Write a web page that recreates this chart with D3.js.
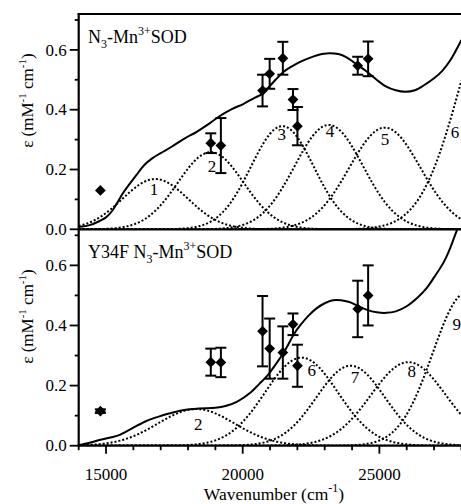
<!DOCTYPE html>
<html>
<head>
<meta charset="utf-8">
<script src="https://cdn.jsdelivr.net/npm/d3@7"></script>
<style>
  html, body { margin: 0; padding: 0; background: #fff; }
  svg { display: block; font-family: "Liberation Serif", "Times New Roman", serif; }
</style>
</head>
<body>
<svg id="chart" width="461" height="504"></svg>
<script>
// Wavenumber range (cm^-1) and absorptivity range (mM^-1 cm^-1)
const wnDomain = [14000, 28000];
const epsDomain = [0, 0.72];

// Measured absorption envelope, N3-Mn3+SOD: [wavenumber, epsilon]
const wildTypeSpectrum = [
  [14000, 0.008], [14400, 0.014], [14750, 0.027], [15000, 0.040], [15230, 0.062],
  [15450, 0.095], [15600, 0.118], [15850, 0.150], [16100, 0.180], [16400, 0.215],
  [16700, 0.238], [17000, 0.255], [17400, 0.276], [17900, 0.305], [18300, 0.325],
  [18800, 0.355], [19150, 0.378], [19600, 0.402], [20000, 0.418], [20400, 0.438],
  [20700, 0.452], [20900, 0.470], [21200, 0.500], [21500, 0.527], [21800, 0.545],
  [22100, 0.560], [22500, 0.575], [22900, 0.586], [23200, 0.589], [23500, 0.586],
  [23800, 0.575], [24100, 0.556], [24500, 0.530], [24900, 0.500], [25200, 0.480],
  [25600, 0.465], [25950, 0.460], [26300, 0.465], [26600, 0.480], [27000, 0.505],
  [27300, 0.530], [27600, 0.566], [28000, 0.633]
];

// Measured absorption envelope, Y34F N3-Mn3+SOD
const y34fSpectrum = [
  [14000, 0.002], [14400, 0.010], [14800, 0.020], [15200, 0.028], [15500, 0.036],
  [15800, 0.050], [16100, 0.065], [16500, 0.083], [16900, 0.096], [17300, 0.107],
  [17800, 0.118], [18400, 0.124], [19000, 0.126], [19400, 0.133], [19800, 0.147],
  [20300, 0.178], [20600, 0.205], [20900, 0.233], [21200, 0.270], [21500, 0.310],
  [21900, 0.375], [22100, 0.400], [22400, 0.432], [22700, 0.457], [23000, 0.474],
  [23300, 0.484], [23600, 0.484], [23900, 0.478], [24200, 0.466], [24550, 0.452],
  [24900, 0.444], [25250, 0.442], [25600, 0.447], [26000, 0.464], [26400, 0.493],
  [26750, 0.527], [27000, 0.560], [27350, 0.610], [27600, 0.660], [27850, 0.720],
  [28000, 0.750]
];

// Gaussian components: label, centre (cm^-1), peak epsilon, standard deviation (cm^-1)
const wildTypeBands = [
  { label: "1", center: 16800, height: 0.168, sigma: 1200 },
  { label: "2", center: 18830, height: 0.258, sigma: 1200 },
  { label: "3", center: 21450, height: 0.345, sigma: 1150 },
  { label: "4", center: 23150, height: 0.349, sigma: 1250 },
  { label: "5", center: 25200, height: 0.340, sigma: 1300 },
  { label: "6", center: 29500, height: 0.820, sigma: 1500 }
];
const y34fBands = [
  { label: "2", center: 18300, height: 0.122, sigma: 1400 },
  { label: "6", center: 22150, height: 0.293, sigma: 1330 },
  { label: "7", center: 23950, height: 0.266, sigma: 1250 },
  { label: "8", center: 26060, height: 0.278, sigma: 1370 },
  { label: "9", center: 28170, height: 0.508, sigma: 1220 }
];

// Band-number annotations: [wavenumber, epsilon] of each label's baseline
const wildTypeBandLabelAt = [[16755, 0.115], [18877, 0.192], [21428, 0.298], [23195, 0.308], [25207, 0.281], [27770, 0.305]];
const y34fBandLabelAt = [[18376, 0.052], [22526, 0.232], [24110, 0.209], [26185, 0.230], [27831, 0.385]];

// Laser excitation lines (cm^-1) used for the excitation profiles
const excitationLines = [14793, 18832, 19201, 20725, 20986, 21468, 21839, 22002, 24207, 24588];
// Excitation-profile values and their uncertainties
const wildTypeProfile = [0.130, 0.288, 0.280, 0.464, 0.520, 0.572, 0.434, 0.345, 0.547, 0.570];
const wildTypeProfileErr = [0, 0.033, 0.092, 0.053, 0.050, 0.055, 0.035, 0.064, 0.030, 0.058];
const y34fProfile = [0.115, 0.278, 0.277, 0.381, 0.323, 0.310, 0.404, 0.266, 0.455, 0.500];
const y34fProfileErr = [0.006, 0.045, 0.049, 0.117, 0.100, 0.087, 0.036, 0.070, 0.094, 0.100];

// Axis ticks
const epsTicks = [0, 0.1, 0.2, 0.3, 0.4, 0.5, 0.6, 0.7];
const epsTickLabels = ["0.0", "", "0.2", "", "0.4", "", "0.6", ""];
const wnTicks = d3.range(14000, 28001, 1000);
const wnLabelled = [15000, 20000, 25000];

// ---------------------------------------------------------------------------
const svg = d3.select("#chart");
const left = 78.7, right = 461.4;
const x = d3.scaleLinear().domain(wnDomain).range([left, right]);

const panels = [
  { id: "wt", top: 14, bottom: 229.3, spectrum: wildTypeSpectrum, bands: wildTypeBands,
    labelAt: wildTypeBandLabelAt, profile: wildTypeProfile, err: wildTypeProfileErr,
    titleParts: [["N", 0], ["3", 1], ["-Mn", 0], ["3+", 2], ["SOD", 0]] },
  { id: "y34f", top: 229.3, bottom: 445.7, spectrum: y34fSpectrum, bands: y34fBands,
    labelAt: y34fBandLabelAt, profile: y34fProfile, err: y34fProfileErr,
    titleParts: [["Y34F N", 0], ["3", 1], ["-Mn", 0], ["3+", 2], ["SOD", 0]] }
];

const bandSamples = d3.range(wnDomain[0], wnDomain[1] + 1, 40);
const gauss = (b, w) => b.height * Math.exp(-((w - b.center) ** 2) / (2 * b.sigma * b.sigma));

panels.forEach(p => {
  const y = d3.scaleLinear().domain(epsDomain).range([p.bottom, p.top]);

  svg.append("clipPath").attr("id", "clip-" + p.id)
    .append("rect").attr("x", left).attr("y", p.top)
    .attr("width", right - left).attr("height", p.bottom - p.top);

  const g = svg.append("g");
  const plot = g.append("g").attr("clip-path", `url(#clip-${p.id})`);

  // Gaussian components (dotted)
  const bandLine = d3.line().x(d => x(d[0])).y(d => y(d[1]));
  p.bands.forEach(b => {
    plot.append("path")
      .attr("d", bandLine(bandSamples.map(w => [w, gauss(b, w)])))
      .attr("fill", "none").attr("stroke", "#000")
      .attr("stroke-width", 2).attr("stroke-dasharray", "2,2");
  });

  // Absorption envelope (solid)
  plot.append("path")
    .attr("d", d3.line().curve(d3.curveCatmullRom).x(d => x(d[0])).y(d => y(d[1]))(p.spectrum))
    .attr("fill", "none").attr("stroke", "#000").attr("stroke-width", 2);

  // Band numbers
  g.selectAll("text.band").data(p.bands).join("text")
    .attr("class", "band")
    .attr("x", (d, i) => x(p.labelAt[i][0]))
    .attr("y", (d, i) => y(p.labelAt[i][1]))
    .attr("text-anchor", "middle").attr("font-size", 17)
    .text(d => d.label);

  // Error bars and diamonds
  const pts = excitationLines.map((w, i) => ({ w, v: p.profile[i], e: p.err[i] }));
  const capW = 5.5;
  pts.filter(d => d.e > 0).forEach(d => {
    const cx = x(d.w), y1 = y(d.v + d.e), y2 = y(d.v - d.e);
    const bar = g.append("g").attr("stroke", "#000").attr("stroke-width", 2);
    bar.append("line").attr("x1", cx).attr("x2", cx).attr("y1", y1).attr("y2", y2);
    bar.append("line").attr("x1", cx - capW).attr("x2", cx + capW).attr("y1", y1).attr("y2", y1);
    bar.append("line").attr("x1", cx - capW).attr("x2", cx + capW).attr("y1", y2).attr("y2", y2);
  });
  g.selectAll("path.pt").data(pts).join("path")
    .attr("class", "pt")
    .attr("d", d3.symbol().type(d3.symbolDiamond2).size(74))
    .attr("transform", d => `translate(${x(d.w)},${y(d.v)})`)
    .attr("fill", "#000");

  // Y axis ticks and labels
  const ya = g.append("g");
  epsTicks.forEach((t, i) => {
    if (t > epsDomain[1]) return;
    const major = epsTickLabels[i] !== "";
    ya.append("line").attr("x1", left - (major ? 9 : 4)).attr("x2", left)
      .attr("y1", y(t)).attr("y2", y(t)).attr("stroke", "#000").attr("stroke-width", 1.8);
    if (major) {
      ya.append("text").attr("x", left - 12).attr("y", y(t))
        .attr("dy", "0.34em").attr("text-anchor", "end").attr("font-size", 17)
        .text(epsTickLabels[i]);
    }
  });

  // Y axis title (rotated)
  const ymid = (p.top + p.bottom) / 2 - 21;
  const yt = g.append("text")
    .attr("transform", `translate(33,${ymid}) rotate(-90)`)
    .attr("text-anchor", "middle").attr("font-size", 17);
  yt.append("tspan").text("ε (mM");
  yt.append("tspan").attr("font-size", 11).attr("dy", -7).text("-1");
  yt.append("tspan").attr("dy", 7).text(" cm");
  yt.append("tspan").attr("font-size", 11).attr("dy", -7).text("-1");
  yt.append("tspan").attr("dy", 7).text(")");

  // Panel title
  const tt = g.append("text").attr("x", 88).attr("y", p.top + 29).attr("font-size", 18);
  let shift = 0;
  p.titleParts.forEach(([s, kind]) => {
    const target = kind === 1 ? 5 : kind === 2 ? -8 : 0;
    const ts = tt.append("tspan").attr("dy", target - shift).text(s);
    if (kind) ts.attr("font-size", 12);
    shift = target;
  });

  // Baseline axis of the panel
  g.append("line").attr("x1", left - 1).attr("x2", right).attr("y1", p.bottom).attr("y2", p.bottom)
    .attr("stroke", "#000").attr("stroke-width", 2.2);
});

// Frame: top edge and shared left axis
svg.append("line").attr("x1", left - 1).attr("x2", right).attr("y1", 14).attr("y2", 14)
  .attr("stroke", "#000").attr("stroke-width", 2.2);
svg.append("line").attr("x1", left).attr("x2", left).attr("y1", 13).attr("y2", 446.8)
  .attr("stroke", "#000").attr("stroke-width", 2.2);

// Bottom wavenumber axis
const yBase = 445.7;
const xa = svg.append("g");
wnTicks.forEach(t => {
  const major = wnLabelled.includes(t);
  xa.append("line").attr("x1", x(t)).attr("x2", x(t)).attr("y1", yBase)
    .attr("y2", yBase + (major ? 8 : 4.5)).attr("stroke", "#000").attr("stroke-width", 1.8);
});
xa.selectAll("text").data(wnLabelled).join("text")
  .attr("x", d => x(d)).attr("y", 480).attr("text-anchor", "middle").attr("font-size", 17)
  .text(d => d);

const xt = svg.append("text").attr("x", 274).attr("y", 499.5)
  .attr("text-anchor", "middle").attr("font-size", 17.5);
xt.append("tspan").text("Wavenumber (cm");
xt.append("tspan").attr("font-size", 12).attr("dy", -8).text("-1");
xt.append("tspan").attr("dy", 8).text(")");
</script>
</body>
</html>
